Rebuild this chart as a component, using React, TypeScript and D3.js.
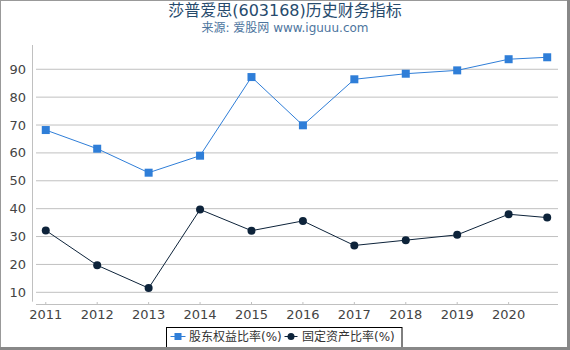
import { useEffect, useRef } from "react";
import * as d3 from "d3";

const title = "莎普爱思(603168)历史财务指标";
const subtitle = "来源: 爱股网 www.iguuu.com";

const years = [2011, 2012, 2013, 2014, 2015, 2016, 2017, 2018, 2019, 2020, 2020.75];
const xTicks = [2011, 2012, 2013, 2014, 2015, 2016, 2017, 2018, 2019, 2020];
const yTicks = [10, 20, 30, 40, 50, 60, 70, 80, 90];

const equityRatio = [68.2, 61.5, 52.9, 59.0, 87.2, 69.9, 86.4, 88.4, 89.6, 93.6, 94.3];
const fixedRatio = [32.2, 19.7, 11.5, 39.7, 32.1, 35.6, 26.8, 28.7, 30.6, 38.0, 36.8];

const seriesNames = ["股东权益比率(%)", "固定资产比率(%)"];
const colors = ["#2f7ed8", "#0d233a"];

const font = "'DejaVu Sans', 'Noto Sans CJK SC', sans-serif";

export default function App() {
  const svgRef = useRef<SVGSVGElement>(null);

  useEffect(() => {
    const svg = d3.select(svgRef.current);
    svg.selectAll("*").remove();

    const W = 570, H = 350;
    const left = 36, right = 558, top = 45, bottom = 301.7;

    const x = d3.scaleLinear().domain([2010.81, 2020.96]).range([left, right]);
    const y = d3.scaleLinear().domain([6.63, 98.7]).range([bottom, top]);

    svg.append("rect").attr("width", W).attr("height", H).attr("fill", "#fff");

    svg.append("text")
      .attr("x", W / 2).attr("y", 16)
      .attr("text-anchor", "middle")
      .attr("font-family", font).attr("font-size", 16)
      .attr("fill", "#274b6d")
      .text(title);

    svg.append("text")
      .attr("x", W / 2).attr("y", 32)
      .attr("text-anchor", "middle")
      .attr("font-family", font).attr("font-size", 12)
      .attr("fill", "#4d759e")
      .text(subtitle);

    // grid
    svg.append("g").selectAll("line").data(yTicks).join("line")
      .attr("x1", left).attr("x2", right)
      .attr("y1", d => y(d)).attr("y2", d => y(d))
      .attr("stroke", "#c0c0c0").attr("stroke-width", 1);

    svg.append("line")
      .attr("x1", 32.5).attr("x2", 32.5).attr("y1", top).attr("y2", bottom)
      .attr("stroke", "#c0c0c0");

    svg.append("g").selectAll("text").data(yTicks).join("text")
      .attr("x", 26).attr("y", d => y(d) + 4.5)
      .attr("text-anchor", "end")
      .attr("font-family", font).attr("font-size", 13)
      .attr("fill", "#444")
      .text(d => d);

    // x axis
    svg.append("line")
      .attr("x1", left).attr("x2", right).attr("y1", 304.5).attr("y2", 304.5)
      .attr("stroke", "#c0c0c0");
    svg.append("g").selectAll("line").data(xTicks).join("line")
      .attr("x1", d => x(d)).attr("x2", d => x(d))
      .attr("y1", 302).attr("y2", 304.5)
      .attr("stroke", "#c0c0c0");
    svg.append("g").selectAll("text").data(xTicks).join("text")
      .attr("x", d => x(d)).attr("y", 318.5)
      .attr("text-anchor", "middle")
      .attr("font-family", font).attr("font-size", 13)
      .attr("fill", "#444")
      .text(d => d);

    const line = d3.line<number>().x((_, i) => x(years[i])).y(d => y(d));

    [equityRatio, fixedRatio].forEach((vals, si) => {
      svg.append("path")
        .attr("d", line(vals))
        .attr("fill", "none")
        .attr("stroke", colors[si])
        .attr("stroke-width", 1);
    });

    svg.append("g").selectAll("rect").data(equityRatio).join("rect")
      .attr("x", (_, i) => x(years[i]) - 4)
      .attr("y", d => y(d) - 4)
      .attr("width", 8).attr("height", 8)
      .attr("fill", colors[0]);

    svg.append("g").selectAll("circle").data(fixedRatio).join("circle")
      .attr("cx", (_, i) => x(years[i]))
      .attr("cy", d => y(d))
      .attr("r", 4)
      .attr("fill", colors[1]);

    // legend
    const lg = svg.append("g");
    lg.append("rect")
      .attr("x", 166.5).attr("y", 327.5).attr("width", 235.5).attr("height", 26)
      .attr("fill", "#fff").attr("stroke", "#000").attr("stroke-width", 1);
    const ly = 336.5;
    lg.append("line").attr("x1", 170.5).attr("x2", 185.5).attr("y1", ly).attr("y2", ly)
      .attr("stroke", colors[0]).attr("stroke-width", 1);
    lg.append("rect").attr("x", 174.5).attr("y", ly - 3.5).attr("width", 7).attr("height", 7)
      .attr("fill", colors[0]);
    lg.append("text").attr("x", 189).attr("y", ly + 4.5)
      .attr("font-family", font).attr("font-size", 12).attr("fill", "#333")
      .text(seriesNames[0]);
    lg.append("line").attr("x1", 284.5).attr("x2", 297.5).attr("y1", ly).attr("y2", ly)
      .attr("stroke", colors[1]).attr("stroke-width", 1);
    lg.append("circle").attr("cx", 291).attr("cy", ly).attr("r", 3.5)
      .attr("fill", colors[1]);
    lg.append("text").attr("x", 302).attr("y", ly + 4.5)
      .attr("font-family", font).attr("font-size", 12).attr("fill", "#333")
      .text(seriesNames[1]);

    // frame
    svg.append("rect").attr("x", 0.5).attr("y", 0.5).attr("width", W - 2).attr("height", H - 2)
      .attr("fill", "none").attr("stroke", "#999").attr("stroke-width", 1);
    svg.append("line").attr("x1", 568.5).attr("x2", 568.5).attr("y1", 0).attr("y2", H)
      .attr("stroke", "#888").attr("stroke-width", 3);
    svg.append("line").attr("x1", 0).attr("x2", W).attr("y1", 348.5).attr("y2", 348.5)
      .attr("stroke", "#888").attr("stroke-width", 3);
  }, []);

  return (
    <div style={{ position: "fixed", left: 0, top: 0 }}>
      <svg ref={svgRef} width={570} height={350} style={{ display: "block" }} />
    </div>
  );
}
